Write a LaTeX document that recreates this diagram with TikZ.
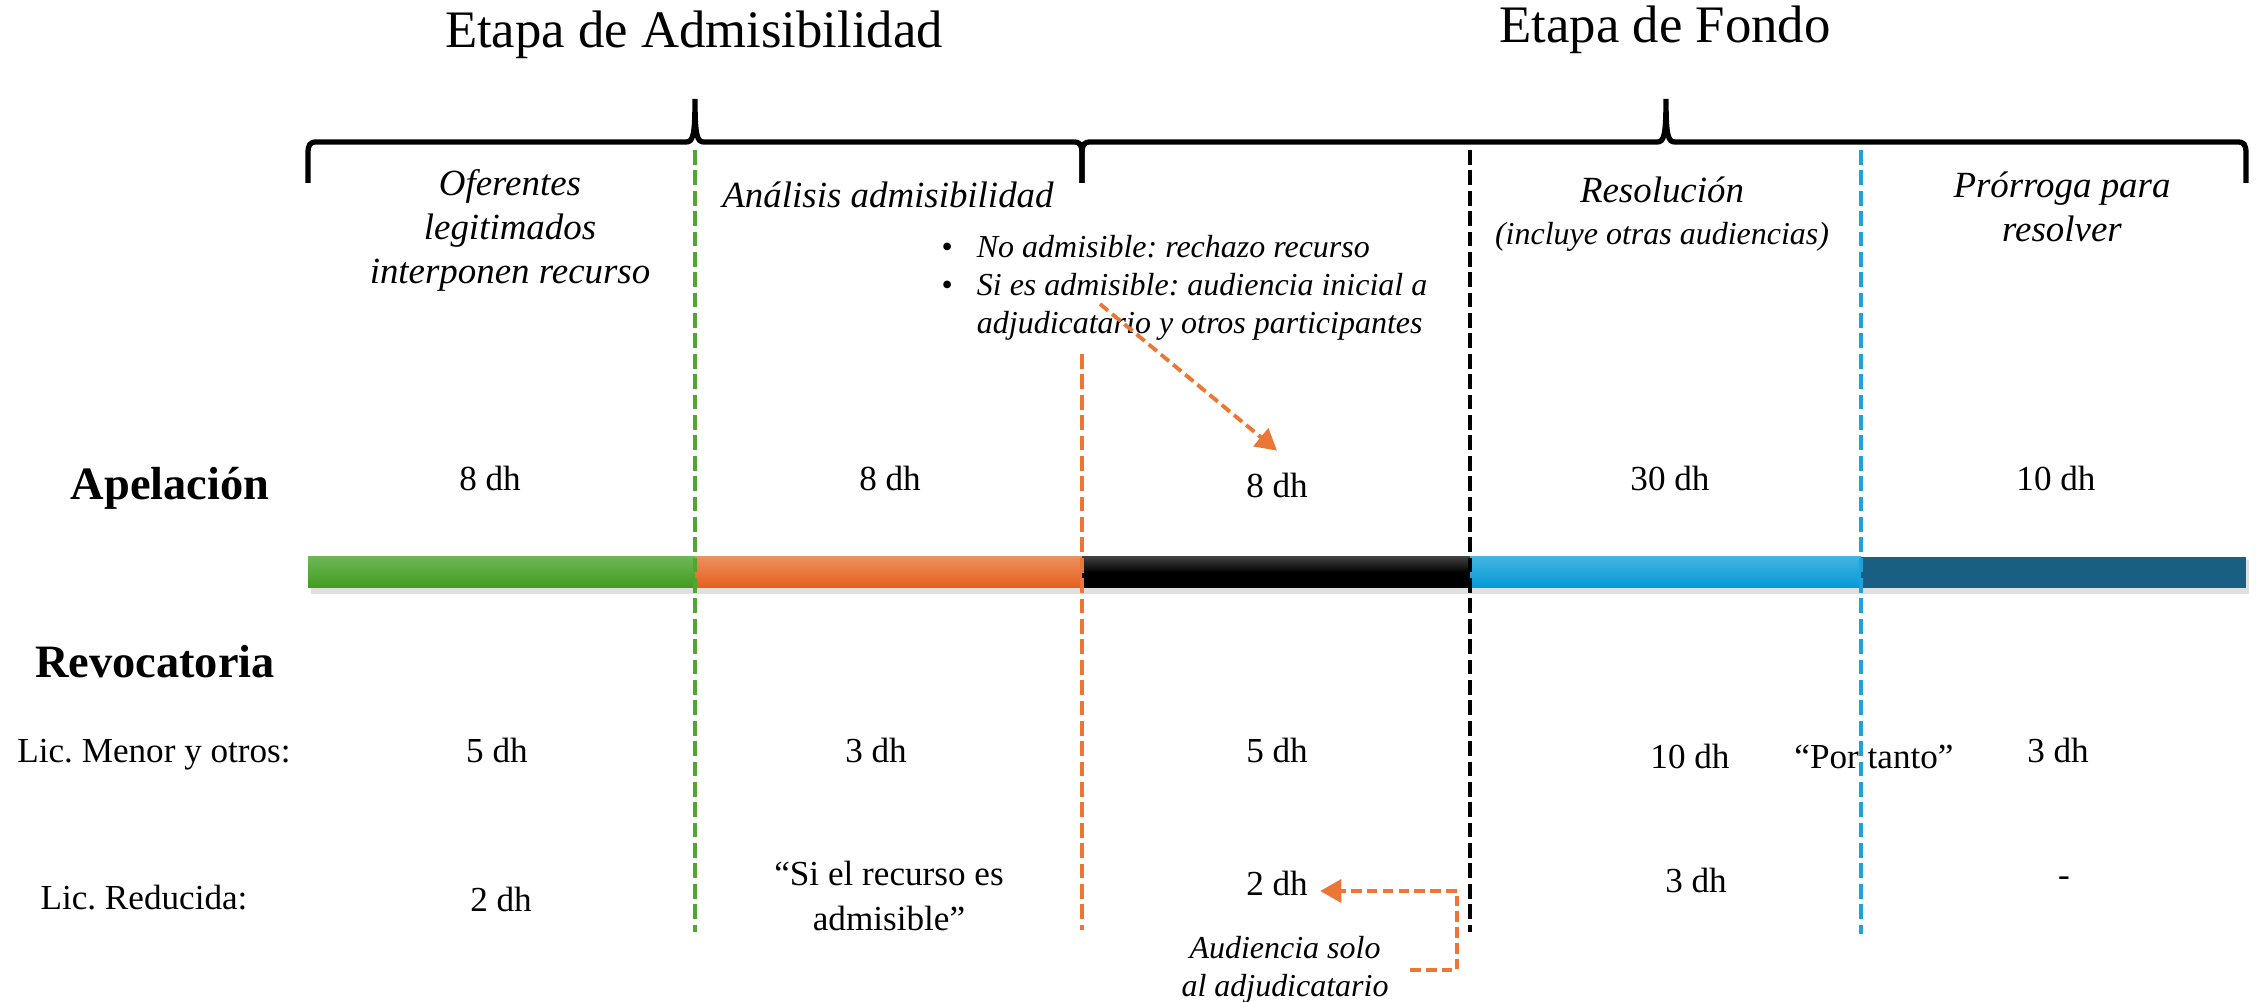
\documentclass[tikz,border=0pt]{standalone}
\usepackage{fontspec}
\setmainfont{Liberation Serif}
\usetikzlibrary{arrows.meta}
\definecolor{verde}{HTML}{3F9D1E}
\definecolor{naranja}{HTML}{E55F1A}
\definecolor{celeste}{HTML}{039AD8}
\definecolor{azul}{HTML}{185F82}
\definecolor{lineaverde}{HTML}{4EA72E}
\definecolor{lineanaranja}{HTML}{EB7636}
\definecolor{lineaceleste}{HTML}{1AA3DE}
\frenchspacing
\tikzset{
  etapa/.style={font=\fontsize{15}{18}\selectfont, anchor=base},
  fase/.style={font=\fontsize{10.5}{12.5}\selectfont\itshape, align=center, anchor=north, inner sep=0pt},
  dias/.style={font=\fontsize{10}{12.8}\selectfont, anchor=base},
  recurso/.style={font=\fontsize{13.2}{15}\selectfont\bfseries, anchor=base},
  nota/.style={font=\fontsize{9.1}{10.6}\selectfont\itshape, align=center, anchor=north, inner sep=0pt},
  corte/.style={dash pattern=on 4.2pt off 1.6pt, line width=1.2pt},
  llave/.style={line width=1.5pt},
  flecha/.style={->, draw=lineanaranja, line width=1.1pt, dash pattern=on 3pt off 1.5pt}
}
\begin{document}
\begin{tikzpicture}[>={Triangle[length=6pt,width=6.5pt]}]
    \useasboundingbox (0,0) rectangle (22.62,10.02);
    \node[etapa] (admisib) at (6.94,9.54) {Etapa de Admisibilidad};
    \node[etapa] (fondo) at (16.65,9.59) {Etapa de Fondo};
    \draw[llave] (3.08,8.19) -- (3.08,8.48) .. controls (3.08,8.58) and (3.10,8.60) .. (3.17,8.60) -- (6.86,8.60)
        .. controls (6.93,8.60) and (6.95,8.66) .. (6.95,9.03) .. controls (6.95,8.66) and (6.97,8.60) .. (7.04,8.60)
        -- (10.73,8.60) .. controls (10.80,8.60) and (10.82,8.58) .. (10.82,8.48) -- (10.82,8.19);
    \draw[llave] (10.82,8.19) -- (10.82,8.48) .. controls (10.82,8.58) and (10.84,8.60) .. (10.91,8.60) -- (16.57,8.60)
        .. controls (16.64,8.60) and (16.66,8.66) .. (16.66,9.03) .. controls (16.66,8.66) and (16.68,8.60) .. (16.75,8.60)
        -- (22.37,8.60) .. controls (22.44,8.60) and (22.46,8.58) .. (22.46,8.48) -- (22.46,8.19);
    % fases
    \node[fase] (oferentes) at (5.10,8.33) {Oferentes\\legitimados\\interponen recurso};
    \node[fase, anchor=base] (analisis) at (8.88,7.94) {Análisis admisibilidad};
    \node[font=\fontsize{9.1}{10.7}\selectfont\itshape, anchor=base west, inner sep=0pt] (opciones) at (9.41,7.44)
        {\begin{tabular}[t]{@{}l@{\hspace{0.24cm}}l@{}}
         \upshape\textbullet & No admisible: rechazo recurso\\
         \upshape\textbullet & Si es admisible: audiencia inicial a\\
                             & adjudicatario y otros participantes
         \end{tabular}};
    \node[fase, anchor=base] (resolucion) at (16.62,7.99) {Resolución};
    \node[nota, anchor=base] (incluye) at (16.62,7.57) {(incluye otras audiencias)};
    \node[fase] (prorroga) at (20.62,8.31) {Prórroga para\\resolver};
    % barra
    \fill[black, opacity=0.12] (3.11,4.08) rectangle (22.49,4.42);
    \shade[top color=verde!75!white, bottom color=verde] (3.08,4.14) rectangle (6.95,4.45);
    \shade[top color=naranja!70!white, bottom color=naranja] (6.95,4.14) rectangle (10.82,4.45);
    \shade[top color=black!75, bottom color=black, middle color=black] (10.82,4.14) rectangle (14.70,4.45);
    \shade[top color=celeste!75!white, bottom color=celeste] (14.70,4.14) rectangle (18.61,4.45);
    \fill[azul] (18.61,4.14) rectangle (22.46,4.45);
    \draw[corte, lineaverde] (6.95,8.52) -- (6.95,0.70);
    \draw[corte, lineanaranja] (10.82,6.48) -- (10.82,0.72);
    \draw[corte] (14.70,8.52) -- (14.70,0.70);
    \draw[corte, lineaceleste] (18.61,8.52) -- (18.61,0.68);
    % apelacion
    \node[recurso] (apelacion) at (1.70,5.02) {Apelación};
    \node[dias] (ap1) at (4.90,5.11) {8 dh};
    \node[dias] (ap2) at (8.90,5.11) {8 dh};
    \node[dias] (ap3) at (12.77,5.04) {8 dh};
    \node[dias] (ap4) at (16.70,5.11) {30 dh};
    \node[dias] (ap5) at (20.56,5.11) {10 dh};
    % revocatoria
    \node[recurso] (revocatoria) at (1.55,3.24) {Revocatoria};
    \node[dias] (menor) at (1.54,2.39) {Lic. Menor y otros:};
    \node[dias] (mn1) at (4.97,2.39) {5 dh};
    \node[dias] (mn2) at (8.76,2.39) {3 dh};
    \node[dias] (mn3) at (12.77,2.39) {5 dh};
    \node[dias] (mn4) at (16.90,2.33) {10 dh};
    \node[dias] (portanto) at (18.74,2.33) {“Por tanto”};
    \node[dias] (mn5) at (20.58,2.39) {3 dh};
    \node[dias] (reducida) at (1.44,0.92) {Lic. Reducida:};
    \node[dias] (rd1) at (5.01,0.90) {2 dh};
    \node[dias, align=center, anchor=north, inner sep=0pt] (siadmisible) at (8.89,1.42) {“Si el recurso es\\admisible”};
    \node[dias] (rd2) at (12.77,1.06) {2 dh};
    \node[dias] (rd3) at (16.96,1.09) {3 dh};
    \node[dias, anchor=center] (rd4) at (20.64,1.20) {-};
    \node[nota] (audiencia) at (12.85,0.66) {Audiencia solo\\al adjudicatario};
    % flechas
    \coordinate (desde) at (11.00,6.98);
    \draw[flecha] (desde) -- ([yshift=3pt]ap3.north);
    \draw[flecha] ([xshift=0.21cm]audiencia.east) -- ++(0.47,0) |- ([yshift=-2pt]rd2.east);
\end{tikzpicture}
\end{document}
